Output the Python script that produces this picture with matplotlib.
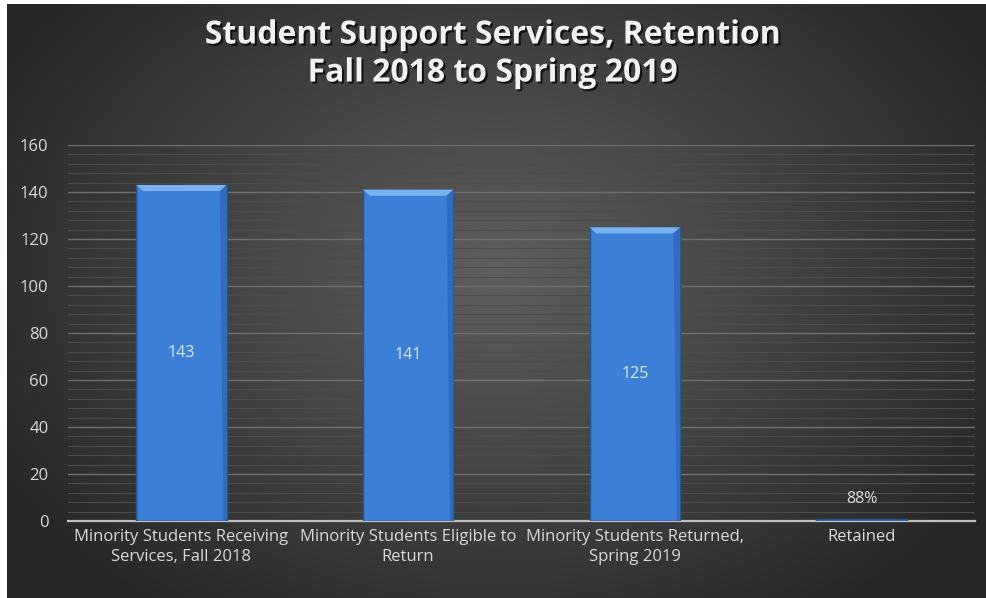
import numpy as np
import matplotlib
matplotlib.use("Agg")
import matplotlib.pyplot as plt
import matplotlib.patheffects as pe
from matplotlib.patches import Polygon
from matplotlib.ticker import MultipleLocator

plt.rcParams['font.family'] = ['Open Sans', 'DejaVu Sans']

categories = ["Minority Students Receiving\nServices, Fall 2018",
              "Minority Students Eligible to\nReturn",
              "Minority Students Returned,\nSpring 2019",
              "Retained"]
values = [143, 141, 125, 0.88]
value_labels = ["143", "141", "125", "88%"]
y_ticks = [0, 20, 40, 60, 80, 100, 120, 140, 160]

fig = plt.figure(figsize=(9.86, 5.98), dpi=100, facecolor="white")

# dark radial background
bg = fig.add_axes([7 / 986, 0, 1 - 7 / 986, 1 - 4 / 598])
bg.set_axis_off()
yy, xx = np.mgrid[0:1:300j, 0:1:500j]
r = np.sqrt(((xx - 0.5) / 0.62) ** 2 + ((yy - 0.45) / 0.75) ** 2)
shade = np.clip(0.37 - 0.23 * r, 0.15, 0.37)
bg.imshow(np.dstack([shade] * 3), aspect="auto", extent=[0, 1, 0, 1],
          interpolation="bilinear")

ax = fig.add_axes([68 / 986, 1 - 521 / 598, 907 / 986, 376 / 598])
ax.patch.set_alpha(0)
x = np.arange(len(categories))
width = 0.4
bars = ax.bar(x, values, width, color="#3b7fd6", edgecolor="#23538f",
              linewidth=1.0, zorder=3)

# bevel on the top of each bar
for b in bars:
    h = b.get_height()
    if h < 5:
        continue
    x0, x1 = b.get_x(), b.get_x() + b.get_width()
    bev = 2.6
    dx = 0.03
    ax.add_patch(Polygon([[x0, h], [x1, h], [x1 - dx, h - bev], [x0 + dx, h - bev]],
                         closed=True, color="#7ab2f0", zorder=4, lw=0))
    ax.add_patch(Polygon([[x1, h], [x1, 0], [x1 - dx * 0.5, 0], [x1 - dx, h - bev]],
                         closed=True, color="#2f6cbd", zorder=4, lw=0))

for xi, v, lab in zip(x, values, value_labels):
    if v > 5:
        ax.text(xi, v / 2, lab, ha="center", va="center", color="#dce8f7",
                fontsize=11.5, zorder=5)
    else:
        ax.text(xi, v + 5, lab, ha="center", va="bottom", color="#d9d9d9",
                fontsize=11.5, zorder=5)

ax.set_xlim(-0.5, 3.5)
ax.set_ylim(0, 160)
ax.set_yticks(y_ticks)
ax.yaxis.set_minor_locator(MultipleLocator(4))
ax.grid(which="major", axis="y", color="#707070", linewidth=1.0, zorder=0)
ax.grid(which="minor", axis="y", color="#4c4c4c", linewidth=0.8, zorder=0)
ax.set_xticks(x)
ax.set_xticklabels(categories, color="#d9d9d9", fontsize=12, linespacing=1.3)
ax.tick_params(axis="y", colors="#d9d9d9", labelsize=12, length=0, pad=14)
ax.tick_params(axis="x", length=0, pad=6)
ax.tick_params(which="minor", length=0)
for s in ["top", "right", "left"]:
    ax.spines[s].set_visible(False)
ax.spines["bottom"].set_color("#bfbfbf")
ax.spines["bottom"].set_linewidth(1.6)
ax.spines["bottom"].set_zorder(2.5)

fig.text(0.5, 1 - 54 / 598, "Student Support Services, Retention\nFall 2018 to Spring 2019",
         ha="center", va="center", color="#f2f2f2", fontsize=23, fontweight="bold",
         linespacing=1.2,
         path_effects=[pe.SimplePatchShadow(offset=(1.5, -1.5), shadow_rgbFace="black", alpha=0.7),
                       pe.Normal()])

fig.savefig("out.png", dpi=100, facecolor=fig.get_facecolor())
